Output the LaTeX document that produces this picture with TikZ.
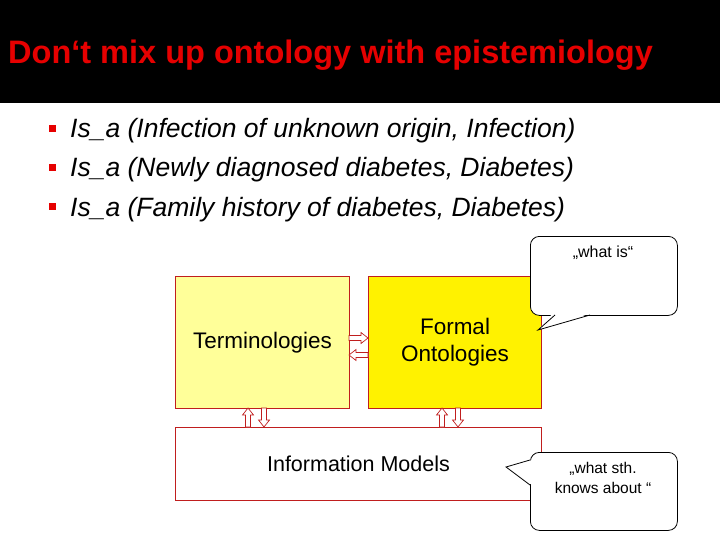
\documentclass[tikz,border=0pt]{standalone}
\usepackage{fontspec}
\setmainfont{Liberation Sans}
\begin{document}
\begin{tikzpicture}[x=1pt,y=-1pt,
  box/.style={draw=boxred,line width=1pt},
  harrow/.pic={\draw[boxred,line width=0.7pt,fill=white] (0,-2.5)--(12,-2.5)--(12,-5.5)--(19,0)--(12,5.5)--(12,2.5)--(0,2.5)--cycle;},
  callout/.style={draw=black,line width=0.8pt,fill=white,rounded corners=9pt}]
\definecolor{boxred}{RGB}{192,30,30}
\definecolor{titred}{RGB}{230,0,0}
\definecolor{lyel}{RGB}{255,255,153}
\useasboundingbox (0,0) rectangle (720,540);
\fill[black] (0,0) rectangle (720,103);
\node[anchor=base west,inner sep=0,text=titred,font=\bfseries\fontsize{32.5}{38}\selectfont] (title) at (8,64) {Don‘t mix up ontology with epistemiology};
\foreach \t [count=\i] in {{Is\_a (Infection of unknown origin, Infection)},{Is\_a (Newly diagnosed diabetes, Diabetes)},{Is\_a (Family history of diabetes, Diabetes)}}{
  \fill[titred] (49,{125+39*(\i-1)}) rectangle (56,{132+39*(\i-1)});
  \node[anchor=base west,inner sep=0,font=\itshape\fontsize{26.5}{30}\selectfont] (b\i) at (70,{138+39*(\i-1)}) {\t};
}
\node[box,fill=lyel,minimum width=174,minimum height=132,anchor=north west,font=\fontsize{22.5}{27}\selectfont] (term) at (175,276) {Terminologies};
\node[box,fill=yellow,minimum width=173,minimum height=132,anchor=north west,align=center,font=\fontsize{22.5}{27}\selectfont] (form) at (368,276) {Formal\\Ontologies};
\node[box,fill=white,minimum width=366,minimum height=73,anchor=north west,font=\fontsize{21.5}{26}\selectfont] (info) at (175,427) {Information Models};
\pic at (349,338) {harrow};
\pic[rotate=180] at (368,355) {harrow};
\pic[rotate=90] at (248,427) {harrow};
\pic[rotate=-90] at (264,408) {harrow};
\pic[rotate=90] at (442,427) {harrow};
\pic[rotate=-90] at (458,408) {harrow};
\node[callout,minimum width=147,minimum height=79,anchor=north west] (c1) at (530,236) {};
\fill[white] (553,313) -- (538,330) -- (592,313) -- cycle;
\draw[line width=0.8pt] (555,315) -- (538,330) -- (590,315);
\node[anchor=north,inner sep=0,font=\fontsize{16}{19}\selectfont] (t1) at (603,246) {„what is“};
\node[callout,minimum width=147,minimum height=78,anchor=north west] (c2) at (530,452) {};
\fill[white] (532,460) -- (506,467) -- (532,485) -- cycle;
\draw[line width=0.8pt] (530,460) -- (506,467) -- (530,485);
\node[anchor=north,align=center,inner sep=0,font=\fontsize{15.5}{20}\selectfont] (t2) at (603,462) {„what sth.\\knows about “};
\end{tikzpicture}
\end{document}
